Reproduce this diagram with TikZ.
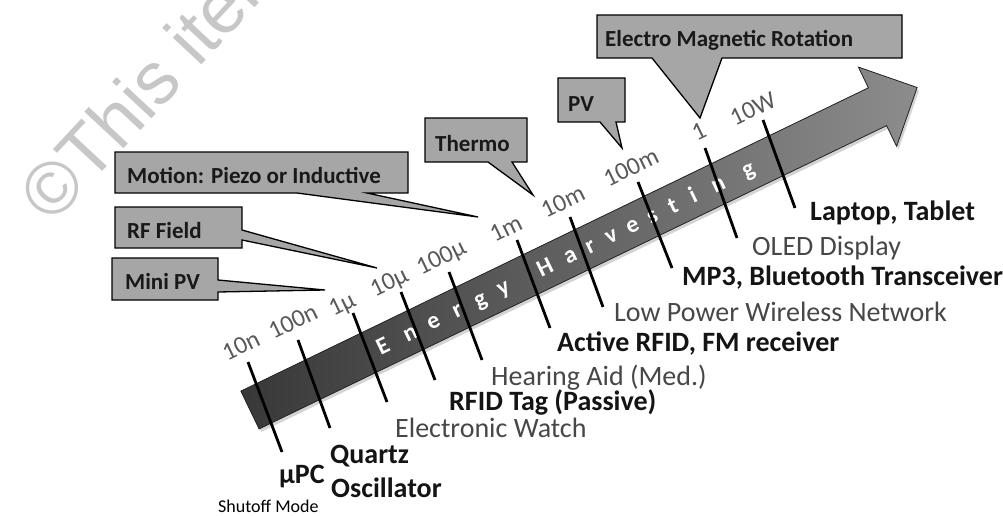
\documentclass[tikz,border=0pt]{standalone}
\usepackage{fontspec}
\setmainfont{Carlito}
\newfontfamily\wmfont{Liberation Sans}
\usetikzlibrary{shadows}
\begin{document}
\begin{tikzpicture}[x=1pt,y=-1pt,
  callout/.style={fill=black!35, draw=black, line width=1.3pt, line join=miter},
  calltext/.style={inner sep=0pt, anchor=base west, font=\fontsize{23}{25}\selectfont\bfseries, text=black!90},
  ticklabel/.style={inner sep=0pt, anchor=center, rotate=25.8, text=black!65, text height=0.63em, text depth=0pt, font=\fontsize{25}{27}\selectfont},
  tickline/.style={line width=2.8pt, black},
  devdark/.style={inner sep=0pt, anchor=base west, text=black!92, font=\fontsize{28}{30}\selectfont\bfseries},
  devgray/.style={inner sep=0pt, anchor=base west, text=black!72, font=\fontsize{28}{30}\selectfont},
  letter/.style={inner sep=0pt, anchor=base, rotate=25.8, text=white, font=\fontsize{24}{26}\selectfont\bfseries},
  wm/.style={inner sep=0pt, anchor=base west, text=black!22, font=\fontsize{74}{76}\wmfont}
]
\useasboundingbox (0,0) rectangle (1003,516);
% watermark
\node[wm, rotate=47] (wm) at (52,226) {©This item};

% arrow
\fill[drop shadow={opacity=0.35, shadow xshift=2pt, shadow yshift=-3pt},
      left color=black!78, right color=black!45, draw=black!85, line width=0.8pt]
  (240.9,391.1) -- (868.4,87.8) -- (858.4,67.1) -- (917.1,87.5) -- (896.6,146.3) -- (886.6,125.6) -- (259.1,428.9) -- cycle;

% letters along the band
\begin{scope}[shift={(250,410)}, rotate=25.8]
  \foreach \d/\c in {147.7/E,177.7/n,203.3/e,229.9/r,255.5/g,281.0/y,327.7/H,355.4/a,377.7/r,401.0/v,424.3/e,446.5/s,469.8/t,492.1/i,519.8/n,553.1/g}
    \node[letter] at (\d,7.5) {\c};
\end{scope}

% callouts
\draw[callout] (597,15) -- (902,15) -- (902,58) -- (722,58) -- (700,118) -- (652,58) -- (597,58) -- cycle;
\draw[callout] (558,78) -- (625,78) -- (625,122) -- (616,122) -- (622,148) -- (600,122) -- (558,122) -- cycle;
\draw[callout] (425,118) -- (527,118) -- (527,162) -- (512,162) -- (533,195) -- (488,162) -- (425,162) -- cycle;
\draw[callout] (115,152) -- (408,152) -- (408,193) -- (367,193) -- (478,217) -- (297,193) -- (115,193) -- cycle;
\draw[callout] (115,207) -- (242,207) -- (242,230) -- (377,268) -- (242,240) -- (242,248) -- (115,248) -- cycle;
\draw[callout] (112,258) -- (218,258) -- (218,280) -- (325,290) -- (218,292) -- (218,300) -- (112,300) -- cycle;
\node[calltext] (emr) at (605,47) {Electro Magnetic Rotation};
\node[calltext] (pv) at (568,112) {PV};
\node[calltext] (thermo) at (435,151) {Thermo};
\node[calltext] (motion) at (127,183) {Motion: Piezo or Inductive};
\node[calltext] (rf) at (127,238) {RF Field};
\node[calltext] (minipv) at (125,289) {Mini PV};

% tick labels
\node[ticklabel] (l10n) at (243,350) {10n};
\node[ticklabel] (l100n) at (295,326) {100n};
\node[ticklabel] (l1u) at (344,308) {1μ};
\node[ticklabel] (l10u) at (391,286) {10μ};
\node[ticklabel] (l100u) at (443,261) {100μ};
\node[ticklabel] (l1m) at (508,233) {1m};
\node[ticklabel] (l10m) at (565,206) {10m};
\node[ticklabel] (l100m) at (633,172) {100m};
\node[ticklabel] (l1) at (701,136) {1};
\node[ticklabel] (l10W) at (755,113) {10W};

% ticks
\foreach \n/\a/\b in {t1/{248,362}/{282,452}, t2/{298,340}/{330,428}, t3/{353,313}/{387,402},
  t4/{401,292}/{435,380}, t5/{449,272}/{482,360}, t6/{517,240}/{550,328}, t7/{570,217}/{603,307},
  t8/{638,182}/{672,268}, t9/{705,148}/{737,238}, t10/{763,120}/{795,208}}{
  \coordinate (\n a) at (\a);
  \coordinate (\n b) at (\b);
  \draw[tickline] (\n a) -- (\n b);
}

% device labels
\node[devdark] (laptop) at (810,220) {Laptop, Tablet};
\node[devgray] (oled) at (752,255) {OLED Display};
\node[devdark] (mp3) at (682,285) {MP3, Bluetooth Transceiver};
\node[devgray] (lpwn) at (614,321) {Low Power Wireless Network};
\node[devdark] (arfid) at (557,351) {Active RFID, FM receiver};
\node[devgray] (hear) at (491,385) {Hearing Aid (Med.)};
\node[devdark] (rfidtag) at (449,410) {RFID Tag (Passive)};
\node[devgray] (watch) at (395,437) {Electronic Watch};
\node[devdark] (quartz) at (330,463) {Quartz};
\node[devdark] (osc) at (331,497) {Oscillator};
\node[devdark] (upc) at (279,483) {μPC};
\node[inner sep=0pt, anchor=base west, text=black, font=\fontsize{18}{19}\selectfont] (shut) at (218,512) {Shutoff Mode};
\end{tikzpicture}
\end{document}
